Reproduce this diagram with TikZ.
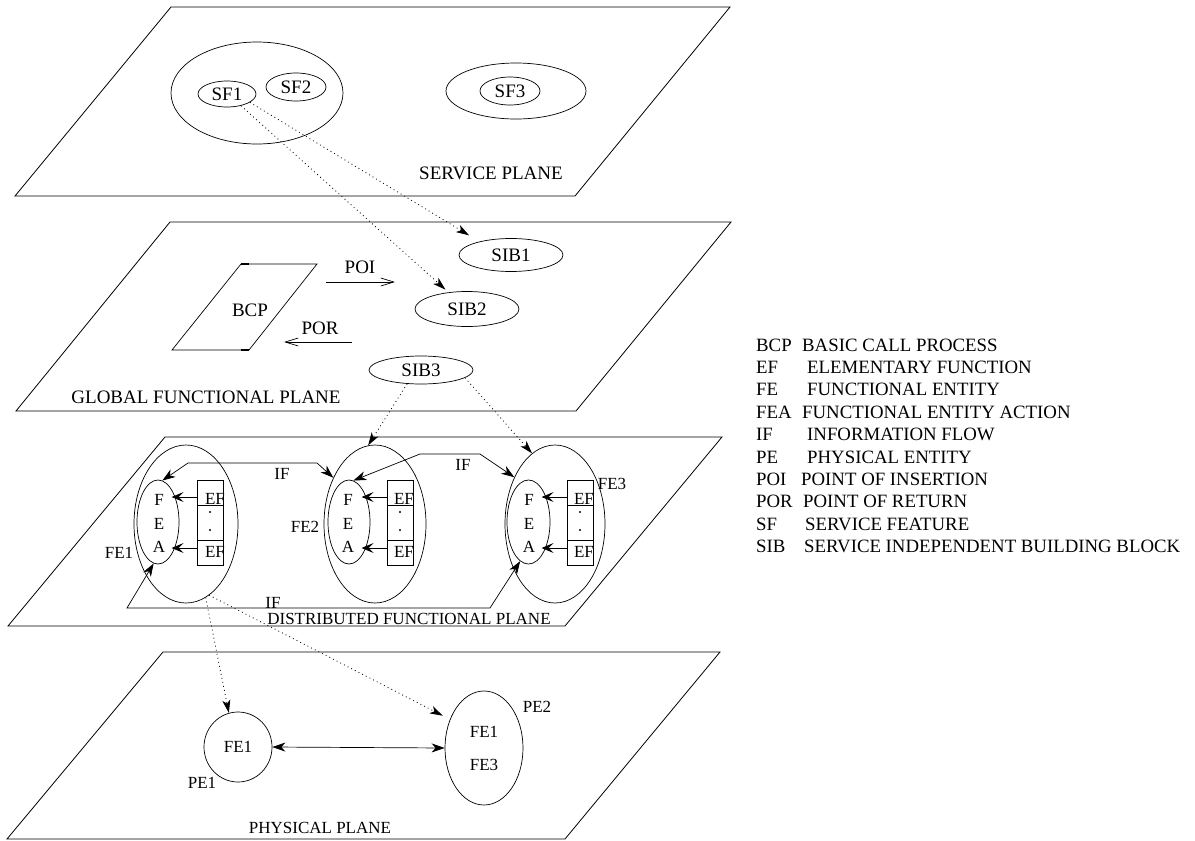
\documentclass[tikz,border=0pt]{standalone}
\usepackage{fontspec}
\setmainfont{Liberation Serif}
\usetikzlibrary{shapes.geometric,arrows.meta}
\begin{document}
\begin{tikzpicture}[x=1pt,y=-1pt,
  plane/.style={draw,line width=0.8pt},
  ell/.style={draw,ellipse,inner sep=0pt,line width=0.7pt},
  bigf/.style={inner sep=0pt,font=\fontsize{19}{23}\selectfont},
  smallf/.style={inner sep=0pt,font=\fontsize{17}{20}\selectfont},
  leg/.style={anchor=west,inner sep=0pt,font=\fontsize{18.8}{22}\selectfont},
  dotarr/.style={line width=0.8pt,dash pattern=on 0.9pt off 3.2pt,-{Stealth[length=13pt,width=8pt,inset=3.5pt]}},
  ifarr/.style={line width=0.7pt,{Stealth[length=13pt,width=9pt,inset=4pt]}-{Stealth[length=13pt,width=9pt,inset=4pt]}},
  efarr/.style={line width=0.7pt,-{Stealth[length=12pt,width=10pt,inset=5pt]}},
  openarr/.style={line width=0.7pt,-{Straight Barb[length=13pt,width=8pt]}},
  efbox/.style={draw,rectangle,minimum width=26pt,inner sep=0pt,line width=0.7pt},
]
\useasboundingbox (0,0) rectangle (1195,841);

% ---------- planes ----------
\draw[plane] (171,7) -- (730,7) -- (575,196) -- (15,196) -- cycle;
\draw[plane] (170,222) -- (731,222) -- (576,411) -- (16,411) -- cycle;
\draw[plane] (165,437) -- (722,437) -- (565,626) -- (8,626) -- cycle;
\draw[plane] (163,652) -- (720,652) -- (565,839) -- (7,839) -- cycle;

\node[bigf] (lsp) at (491,173) {SERVICE PLANE};
\node[bigf] (lgfp) at (206,397) {GLOBAL FUNCTIONAL PLANE};
\node[smallf] (ldfp) at (409,619) {DISTRIBUTED FUNCTIONAL PLANE};
\node[smallf] (lpp) at (320,828) {PHYSICAL PLANE};

% ---------- service plane ----------
\node[ell,minimum width=172pt,minimum height=102pt] (sfg) at (257,93) {};
\node[ell,bigf,minimum width=58pt,minimum height=26pt] (sf1) at (227,94) {SF1};
\node[ell,bigf,minimum width=60pt,minimum height=28pt] (sf2) at (296,87) {SF2};
\node[ell,minimum width=140pt,minimum height=56pt] (sf3g) at (516,91) {};
\node[ell,bigf,minimum width=60pt,minimum height=28pt] (sf3) at (510,91) {SF3};

% ---------- global functional plane ----------
\node[ell,bigf,minimum width=104pt,minimum height=33pt] (sib1) at (511,255) {SIB1};
\node[ell,bigf,minimum width=104pt,minimum height=35pt] (sib2) at (467,309) {SIB2};
\node[ell,bigf,minimum width=104pt,minimum height=28pt] (sib3) at (421,370) {SIB3};

\draw[line width=0.7pt] (241,264) -- (317,264) -- (249,350) -- (172,350) -- cycle;
\draw[line width=2pt] (241,264) -- (249,264);
\draw[line width=2pt] (241,350) -- (249,350);
\node[bigf] (bcp) at (250,310) {BCP};

\coordinate (poia) at (326,282);
\coordinate (poib) at (395,282);
\draw[openarr] (poia) -- (poib);
\node[bigf] (poi) at (360,267) {POI};
\coordinate (pora) at (352,342);
\coordinate (porb) at (284,342);
\draw[openarr] (pora) -- (porb);
\node[bigf] (por) at (320,328) {POR};

\draw[dotarr,shorten >=12pt] (sf1.-20) -- (sib1.157);
\draw[dotarr,shorten >=4pt] (sf1.-40) -- (sib2.138);

% ---------- distributed functional plane ----------
\node[ell,minimum width=104pt,minimum height=158pt] (fe1) at (186,524) {};
\node[ell,minimum width=102pt,minimum height=158pt] (fe2) at (375,524) {};
\node[ell,minimum width=100pt,minimum height=158pt] (fe3) at (555,524) {};
\node[ell,minimum width=42pt,minimum height=84pt] (fea1) at (158,522) {};
\node[ell,minimum width=42pt,minimum height=84pt] (fea2) at (349,522) {};
\node[ell,minimum width=43pt,minimum height=84pt] (fea3) at (528.5,522) {};

\foreach \i/\tx in {1/159,2/348,3/529}{
  \node[smallf] (f\i) at (\tx,500) {F};
  \node[smallf] (e\i) at (\tx,523.5) {E};
  \node[smallf] (a\i) at (\tx,547) {A};
}
\foreach \i/\bx/\ex in {1/210/215,2/400/404,3/580/584}{
  \node[efbox,minimum height=25pt] (efa\i) at (\bx,492.5) {};
  \node[efbox,minimum height=35pt] (efb\i) at (\bx,522.5) {};
  \node[efbox,minimum height=25pt] (efc\i) at (\bx,552.5) {};
  \node[smallf] (eft\i) at (\ex,499) {EF};
  \node[smallf] (efu\i) at (\ex,552) {EF};
  \fill (\bx,512) circle (1.1pt);
  \fill (\bx,530) circle (1.1pt);
  \draw[efarr] ([yshift=-4.5pt]efa\i.west) -- ++(-25,0);
  \draw[efarr] ([yshift=4.5pt]efc\i.west) -- ++(-25,0);
}

\node[smallf] (lfe1) at (119,553) {FE1};
\node[smallf] (lfe2) at (305,527) {FE2};
\node[smallf] (lfe3) at (612,484) {FE3};

\draw[ifarr] (fea1.84) -- (188,463) -- (317,463) -- (fe2.132);
\node[smallf] (if1) at (282,474) {IF};
\draw[ifarr] (fea2.84) -- (420,454) -- (480,454) -- (fe3.131);
\node[smallf] (if2) at (463,465) {IF};
\draw[ifarr] (fea1.-96) -- (127,608) -- (490,608) -- (fea3.-102);
\node[smallf] (if3) at (273,603) {IF};

\draw[dotarr] (sib3.-135) -- (fe2.95);
\draw[dotarr] (sib3.-10) -- (fe3.108);

% ---------- physical plane ----------
\node[ell,smallf,minimum width=68pt,minimum height=70pt] (pe1) at (238,747) {FE1};
\node[ell,smallf,align=center,minimum width=78pt,minimum height=114pt] (pe2) at (484,748) {FE1\\[13pt]FE3};
\node[smallf] (lpe1) at (202,783) {PE1};
\node[smallf] (lpe2) at (537,707) {PE2};
\draw[ifarr] (pe1.east) -- (pe2.west);

\draw[dotarr] (fe1.-75) -- (pe1.105);
\draw[dotarr,shorten >=8pt] (fe1.-72) -- (pe2.140);

% ---------- legend ----------
\foreach \ab/\de/\dx [count=\k from 0] in {BCP/BASIC CALL PROCESS/802,EF/ELEMENTARY FUNCTION/807,FE/FUNCTIONAL ENTITY/807,FEA/FUNCTIONAL ENTITY ACTION/802,IF/INFORMATION FLOW/807,PE/PHYSICAL ENTITY/807,POI/POINT OF INSERTION/801,POR/POINT OF RETURN/803,SF/SERVICE FEATURE/805,SIB/SERVICE INDEPENDENT BUILDING BLOCK/804}{
  \node[leg] (ab\k) at (756,345+22.4*\k) {\ab};
  \node[leg] (de\k) at (\dx,345+22.4*\k) {\de};
}
\end{tikzpicture}
\end{document}
